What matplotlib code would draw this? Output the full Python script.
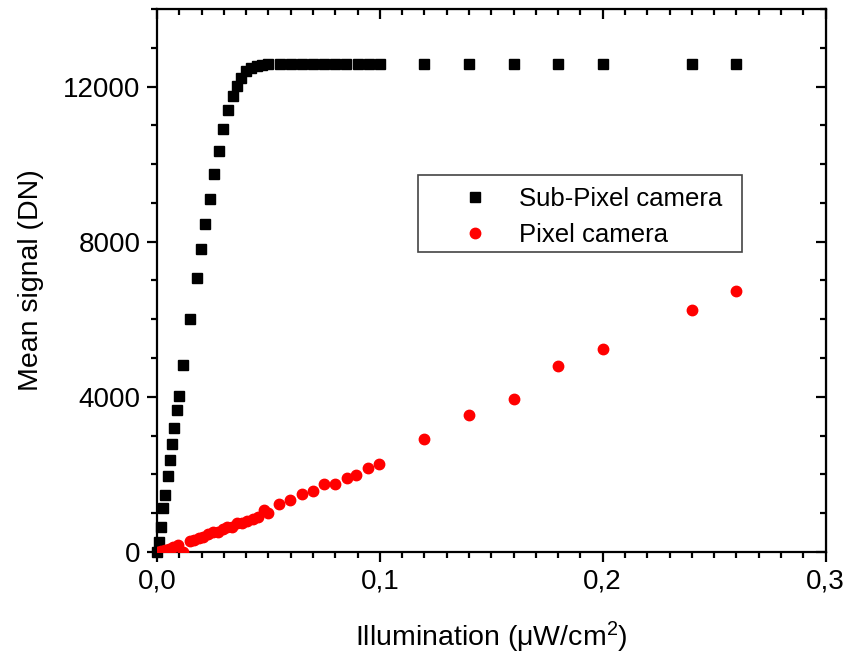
import matplotlib
matplotlib.use("Agg")
import matplotlib.pyplot as plt
from matplotlib.patches import Rectangle
from matplotlib.ticker import MultipleLocator, FuncFormatter

plt.rcParams['font.family'] = ['Liberation Sans', 'DejaVu Sans']
plt.rcParams['mathtext.fontset'] = 'custom'
plt.rcParams['mathtext.rm'] = 'Liberation Sans'
plt.rcParams['mathtext.default'] = 'regular'

# Sub-Pixel camera (black squares)
sub_x = [0.0, 0.0009, 0.0018, 0.0028, 0.0037, 0.0048, 0.0058, 0.0067, 0.0078,
         0.0088, 0.0099, 0.0118, 0.0148, 0.0178, 0.0197, 0.0217, 0.0238, 0.0257,
         0.0277, 0.0297, 0.0317, 0.0339, 0.0357, 0.0377, 0.0399, 0.0422, 0.0447,
         0.0472, 0.0496, 0.055, 0.06, 0.065, 0.07, 0.075, 0.08, 0.085, 0.09,
         0.095, 0.1, 0.12, 0.14, 0.16, 0.18, 0.2, 0.24, 0.26]
sub_y = [0, 250, 653, 1127, 1478, 1961, 2374, 2779, 3207,
         3664, 4033, 4832, 6012, 7077, 7810, 8455, 9100, 9735,
         10346, 10913, 11386, 11747, 12023, 12221, 12393, 12480, 12539,
         12565, 12575, 12575, 12575, 12575, 12575, 12575, 12575, 12575, 12575,
         12575, 12575, 12575, 12575, 12575, 12575, 12575, 12575, 12575]

# Pixel camera (red circles)
pix_x = [0.0, 0.0017, 0.0036, 0.0055, 0.0073, 0.0093, 0.0118, 0.0148, 0.0167,
         0.0187, 0.0208, 0.023, 0.025, 0.0272, 0.0294, 0.0315, 0.0335, 0.0357,
         0.038, 0.0402, 0.0432, 0.0454, 0.048, 0.0499, 0.0549, 0.0599, 0.0649,
         0.0698, 0.0749, 0.0798, 0.0851, 0.0895, 0.0948, 0.0996,
         0.12, 0.14, 0.16, 0.18, 0.2, 0.24, 0.26]
pix_y = [0, 26, 52, 85, 121, 181, 10, 276, 310,
         361, 395, 464, 524, 524, 601, 637, 653, 740,
         756, 808, 859, 911, 1084, 998, 1238, 1341, 1496,
         1582, 1746, 1746, 1901, 1987, 2167, 2262,
         2925, 3530, 3947, 4795, 5233, 6230, 6720]

fig = plt.figure(figsize=(8.5, 6.68), dpi=100)
ax = fig.add_axes([0.1847, 0.1737, 0.7865, 0.8128])

ax.plot(sub_x, sub_y, 's', color='black', markersize=7, label='Sub-Pixel camera',
        clip_on=False, zorder=3)
ax.plot(pix_x, pix_y, 'o', color='red', markersize=7.5, label='Pixel camera',
        clip_on=True, zorder=3)

ax.set_xlim(0, 0.3)
ax.set_ylim(0, 14000)
ax.xaxis.set_major_locator(MultipleLocator(0.1))
ax.xaxis.set_minor_locator(MultipleLocator(0.01))
ax.yaxis.set_major_locator(MultipleLocator(4000))
ax.yaxis.set_minor_locator(MultipleLocator(1000))
ax.xaxis.set_major_formatter(FuncFormatter(lambda v, p: ('%.1f' % v).replace('.', ',')))
ax.yaxis.set_major_formatter(FuncFormatter(lambda v, p: '%d' % v))

for s in ax.spines.values():
    s.set_linewidth(1.6)

ax.tick_params(which='both', direction='out', width=1.6, labelsize=20, top=False, right=False)
ax.tick_params(which='major', length=7, pad=5)
ax.tick_params(which='minor', length=4)

# mirrored inward ticks on top and right
sx = ax.secondary_xaxis('top')
sx.set_xticks([0, 0.1, 0.2, 0.3])
sx.xaxis.set_minor_locator(MultipleLocator(0.01))
sx.tick_params(which='both', direction='in', width=1.6, labeltop=False)
sx.tick_params(which='major', length=7)
sx.tick_params(which='minor', length=4)
sy = ax.secondary_yaxis('right')
sy.set_yticks([0, 4000, 8000, 12000])
sy.yaxis.set_minor_locator(MultipleLocator(1000))
sy.tick_params(which='both', direction='in', width=1.6, labelright=False)
sy.tick_params(which='major', length=7)
sy.tick_params(which='minor', length=4)

ax.set_xlabel('Illumination (\u03bcW/cm$^2$)', fontsize=20.5, labelpad=18)
ax.set_ylabel('Mean signal (DN)', fontsize=20.5, labelpad=14)

# legend box drawn separately to get the wide right padding
ax.add_patch(Rectangle((0.3907, 0.5525), 0.485, 0.1418, transform=ax.transAxes,
                       facecolor='white', edgecolor='#444444', linewidth=1.2, zorder=4))
leg = ax.legend(loc='upper left', bbox_to_anchor=(0.437, 0.672), fontsize=18.5,
                frameon=False, borderpad=0, handletextpad=0.7, borderaxespad=0,
                labelspacing=0.47, handlelength=2.0)
leg.set_zorder(5)

fig.savefig('out.png', dpi=100)
